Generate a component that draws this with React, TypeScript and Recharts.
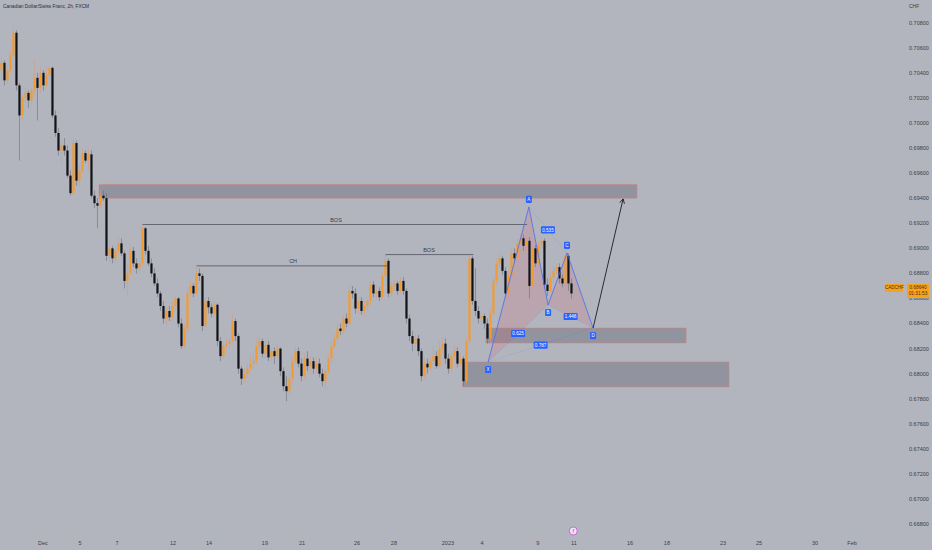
import React from 'react';
import {
  ComposedChart,
  Bar,
  Area,
  XAxis,
  YAxis,
  ReferenceArea,
  ReferenceLine,
  ReferenceDot,
} from 'recharts';

// ---------- data ----------
const firstOpen = 0.7042;

const closes = [
  0.7048, 0.7034, 0.7042, 0.7054, 0.7072, 0.703, 0.7006, 0.702, 0.7024, 0.7018,
  0.7026, 0.7036, 0.7028, 0.704, 0.703, 0.7038, 0.7044, 0.7006, 0.6992, 0.6978,
  0.6982, 0.6978, 0.6958, 0.6944, 0.6984, 0.6954, 0.6962, 0.6976, 0.697, 0.6975,
  0.6942, 0.6936, 0.6934, 0.6942, 0.694, 0.6894, 0.69, 0.6892, 0.6898, 0.6904,
  0.6896, 0.6874, 0.688, 0.6898, 0.6888, 0.6884, 0.6888, 0.6916, 0.6898, 0.6888,
  0.688, 0.6872, 0.6864, 0.6854, 0.6844, 0.685, 0.6845, 0.6854, 0.686, 0.684,
  0.6822, 0.6836, 0.6864, 0.687, 0.6864, 0.688, 0.6878, 0.6838, 0.6858, 0.6853,
  0.6848, 0.6855, 0.6826, 0.6814, 0.6822, 0.6824, 0.6826, 0.6842, 0.683, 0.6804,
  0.6796, 0.68, 0.6804, 0.6808, 0.681, 0.6822, 0.6826, 0.6816, 0.6823, 0.6813,
  0.6818, 0.6814, 0.682, 0.6802, 0.679, 0.6786, 0.6796, 0.681, 0.6818, 0.6808,
  0.6798, 0.6812, 0.6806, 0.681, 0.6804, 0.6808, 0.68, 0.6794, 0.6802, 0.6812,
  0.6822, 0.6828, 0.6836, 0.6834, 0.6844, 0.684, 0.6866, 0.6864, 0.6852, 0.6858,
  0.685, 0.6854, 0.6858, 0.6871, 0.6864, 0.6866, 0.6861, 0.6878, 0.689, 0.6864,
  0.687, 0.6872, 0.6866, 0.6874, 0.6866, 0.6844, 0.683, 0.6824, 0.6828, 0.6818,
  0.6798, 0.6808, 0.6805, 0.681, 0.6814, 0.6806, 0.682, 0.6824, 0.6812, 0.6804,
  0.6814, 0.6818, 0.6808, 0.6812, 0.6794, 0.6826, 0.6892, 0.6858, 0.685, 0.6844,
  0.6846, 0.684, 0.6828, 0.6848, 0.6874, 0.6888, 0.6892, 0.6882, 0.6864, 0.6878,
  0.6896, 0.6892, 0.6904, 0.6908, 0.6902, 0.6906, 0.687, 0.69, 0.6888, 0.6903,
  0.6906, 0.6871, 0.6866, 0.6877, 0.6882, 0.6885, 0.6876, 0.6872, 0.6894, 0.6872,
  0.6864,
];

const highs = [
  0.7052, 0.705, 0.7046, 0.7058, 0.708, 0.7074, 0.7032, 0.7022, 0.7028, 0.7026,
  0.7029, 0.705, 0.704, 0.7044, 0.7042, 0.7044, 0.7045, 0.7045, 0.701, 0.6996,
  0.6986, 0.6988, 0.6982, 0.6962, 0.6988, 0.6986, 0.6966, 0.698, 0.6978, 0.698,
  0.6978, 0.6946, 0.694, 0.6946, 0.6946, 0.6944, 0.6906, 0.6902, 0.6902, 0.6909,
  0.6908, 0.6898, 0.6888, 0.6902, 0.6901, 0.6892, 0.6892, 0.6919, 0.6917, 0.6902,
  0.6892, 0.6884, 0.6876, 0.6866, 0.6858, 0.6853, 0.6854, 0.6858, 0.6863, 0.6861,
  0.6844, 0.684, 0.6868, 0.6874, 0.6872, 0.6885, 0.6884, 0.688, 0.6861, 0.6861,
  0.6856, 0.6858, 0.6856, 0.6829, 0.6826, 0.6828, 0.6829, 0.6848, 0.6844, 0.6832,
  0.6806, 0.6804, 0.6808, 0.6814, 0.6816, 0.6828, 0.6829, 0.6828, 0.6826, 0.6826,
  0.6821, 0.6821, 0.6823, 0.6821, 0.6805, 0.6798, 0.68, 0.6813, 0.6822, 0.6821,
  0.6812, 0.6816, 0.6818, 0.6814, 0.6813, 0.6813, 0.6812, 0.6804, 0.6807, 0.6816,
  0.6826, 0.6832, 0.684, 0.684, 0.6847, 0.6848, 0.6871, 0.687, 0.6868, 0.6861,
  0.6861, 0.6858, 0.6861, 0.6874, 0.6874, 0.6871, 0.6869, 0.6882, 0.6895, 0.6892,
  0.6874, 0.6876, 0.6874, 0.6877, 0.6877, 0.6868, 0.6847, 0.6834, 0.6832, 0.6831,
  0.682, 0.6813, 0.6812, 0.6814, 0.6822, 0.6818, 0.6826, 0.6829, 0.6828, 0.6816,
  0.6818, 0.6822, 0.6821, 0.6816, 0.6814, 0.6829, 0.6896, 0.6894, 0.6884, 0.6854,
  0.685, 0.6848, 0.6844, 0.6852, 0.6878, 0.6892, 0.6896, 0.6894, 0.6885, 0.6882,
  0.6901, 0.69, 0.6908, 0.6912, 0.6911, 0.6909, 0.6909, 0.6903, 0.6903, 0.6906,
  0.6909, 0.6908, 0.6876, 0.688, 0.6886, 0.6888, 0.6888, 0.6879, 0.6896, 0.6896,
  0.6876,
];

const lows = [
  0.7034, 0.703, 0.7031, 0.704, 0.7052, 0.7026, 0.697, 0.7002, 0.7016, 0.7012,
  0.7014, 0.7022, 0.7002, 0.7024, 0.7026, 0.7028, 0.7034, 0.7004, 0.6989, 0.6974,
  0.6968, 0.6974, 0.6956, 0.6942, 0.6943, 0.695, 0.6949, 0.696, 0.6968, 0.6962,
  0.694, 0.6932, 0.6916, 0.6932, 0.6938, 0.689, 0.6888, 0.6888, 0.6888, 0.6895,
  0.6894, 0.6868, 0.6862, 0.6879, 0.6885, 0.688, 0.688, 0.6886, 0.6895, 0.6886,
  0.6877, 0.687, 0.6861, 0.685, 0.684, 0.6839, 0.6842, 0.6842, 0.685, 0.6837,
  0.682, 0.682, 0.6832, 0.6861, 0.6861, 0.6863, 0.6874, 0.6834, 0.6836, 0.6848,
  0.6845, 0.6845, 0.6822, 0.681, 0.6812, 0.6818, 0.682, 0.6824, 0.6826, 0.68,
  0.6791, 0.6792, 0.6797, 0.68, 0.6804, 0.6807, 0.6818, 0.6813, 0.6812, 0.681,
  0.681, 0.6808, 0.6812, 0.6798, 0.6786, 0.6778, 0.6783, 0.6792, 0.6807, 0.6805,
  0.6794, 0.6796, 0.6802, 0.68, 0.68, 0.68, 0.6797, 0.679, 0.6788, 0.68,
  0.6808, 0.682, 0.6824, 0.6831, 0.6831, 0.6837, 0.6839, 0.686, 0.6848, 0.6848,
  0.6847, 0.6845, 0.685, 0.6855, 0.6861, 0.686, 0.6858, 0.686, 0.6874, 0.6861,
  0.6861, 0.6866, 0.6863, 0.6864, 0.6863, 0.684, 0.6826, 0.6818, 0.682, 0.6814,
  0.6794, 0.6796, 0.68, 0.6802, 0.6807, 0.6804, 0.6804, 0.6816, 0.6808, 0.68,
  0.68, 0.681, 0.6805, 0.6805, 0.679, 0.6792, 0.6824, 0.6855, 0.6846, 0.684,
  0.6838, 0.6836, 0.6824, 0.6824, 0.6846, 0.687, 0.6885, 0.6879, 0.6861, 0.686,
  0.6874, 0.6888, 0.6888, 0.69, 0.6898, 0.6898, 0.686, 0.6868, 0.6885, 0.6885,
  0.69, 0.6868, 0.6862, 0.6864, 0.6872, 0.6879, 0.6872, 0.6869, 0.6871, 0.6866,
  0.686,
];

// time axis (bar index positions) and labels
const timeTicks = [13.8, 26.2, 38.5, 57.2, 69.2, 87.8, 100.2, 118.5, 130.8, 148.8, 160.2, 178.8, 190.8, 209.5, 221.8, 240.5, 252.5, 271.2, 283.5];
const timeLabels = ['Dec', '5', '7', '12', '14', '19', '21', '26', '28', '2023', '4', '9', '11', '16', '18', '23', '25', '30', 'Feb'];

// price axis
const priceTicks = [0.668, 0.670, 0.672, 0.674, 0.676, 0.678, 0.680, 0.682, 0.684, 0.686, 0.688, 0.690, 0.692, 0.694, 0.696, 0.698, 0.700, 0.702, 0.704, 0.706, 0.708];
const priceDomain = [0.66713, 0.70981];
const timeDomain = [-0.5, 292.83];

// supply / demand zones
const zoneStart = [32.5, 161.5, 153.8];
const zoneEnd = [211.8, 228.2, 242.5];
const zoneLow = [0.694, 0.68245, 0.67894];
const zoneHigh = [0.6951, 0.68364, 0.68093];

// structure lines
const structNames = ['BOS', 'CH', 'BOS'];
const structStart = [47, 65, 128];
const structEnd = [175.2, 128.5, 157.3];
const structPrice = [0.6919, 0.6886, 0.6895];
const structLabelAt = [111.5, 97.2, 142.5];

// harmonic XABCD
const patNames = ['X', 'A', 'B', 'C', 'D'];
const patIdx = [162.2, 175.8, 182.2, 188.5, 197.2];
const patPrice = [0.68093, 0.6933, 0.68548, 0.68963, 0.68364];
const ratioFrom = [0, 1, 2, 0];
const ratioTo = [2, 3, 4, 4];
const ratioText = ['0.625', '0.535', '1.448', '0.787'];
const labelBelow = [true, false, true, false, true];

// projection arrow target
const arrowIdx = 207.2;
const arrowPrice = 0.69394;

// event marker
const eventIdx = 190.6;
const eventPrice = 0.66745;

// ---------- derived table ----------
const rows = closes.map((c, i) => {
  const o = i === 0 ? firstOpen : closes[i - 1];
  return {
    i,
    open: o,
    close: c,
    high: Math.max(highs[i], o, c),
    low: Math.min(lows[i], o, c),
  };
});

const lerp = (a: number, b: number, t: number) => a + (b - a) * t;
const tri1 = [
  { i: patIdx[0], r: [patPrice[0], patPrice[0]] },
  { i: patIdx[1], r: [lerp(patPrice[0], patPrice[2], (patIdx[1] - patIdx[0]) / (patIdx[2] - patIdx[0])), patPrice[1]] },
  { i: patIdx[2], r: [patPrice[2], patPrice[2]] },
];
const tri2 = [
  { i: patIdx[2], r: [patPrice[2], patPrice[2]] },
  { i: patIdx[3], r: [lerp(patPrice[2], patPrice[4], (patIdx[3] - patIdx[2]) / (patIdx[4] - patIdx[2])), patPrice[3]] },
  { i: patIdx[4], r: [patPrice[4], patPrice[4]] },
];

// ---------- styles ----------
const BG = '#b2b5be';
const UP = '#f29b32';
const DOWN = '#111318';
const BLUE = '#2962ff';
const FONT = '"Liberation Sans", Arial, sans-serif';
const TXT = '#3a3e49';

const Candle = (props: any) => {
  const { x, y, width, height, payload } = props;
  if (!payload || x == null || y == null) return null;
  const { open, close, high, low } = payload;
  const top = Math.min(y, y + height);
  const h = Math.abs(height);
  const span = high - low || 1e-9;
  const k = h / span;
  const up = close >= open;
  const bTop = top + (high - Math.max(open, close)) * k;
  const bH = Math.max(1, Math.abs(open - close) * k);
  const cx = x + (width || 0) / 2;
  const bw = 2.2;
  return (
    <g>
      <line x1={cx} x2={cx} y1={top} y2={top + h} stroke={up ? '#d69a7c' : '#60636c'} strokeWidth={0.5} />
      <rect x={cx - bw / 2} y={bTop} width={bw} height={bH} fill={up ? UP : DOWN} />
    </g>
  );
};

const ArrowShape = (p: any) => {
  const { x1, y1, x2, y2 } = p;
  if (x1 == null) return null;
  const ang = Math.atan2(y2 - y1, x2 - x1);
  const L = 5;
  const a1 = ang + Math.PI - 0.5;
  const a2 = ang + Math.PI + 0.5;
  return (
    <g>
      <line x1={x1} y1={y1} x2={x2} y2={y2} stroke="#1c1d22" strokeWidth={0.9} />
      <polyline
        points={`${x2 + L * Math.cos(a1)},${y2 + L * Math.sin(a1)} ${x2},${y2} ${x2 + L * Math.cos(a2)},${y2 + L * Math.sin(a2)}`}
        fill="none"
        stroke="#1c1d22"
        strokeWidth={0.9}
      />
    </g>
  );
};

const makeBadge = (text: string, dy: number, w: number) => (p: any) => {
  const { cx, cy } = p;
  if (cx == null) return null;
  return (
    <g>
      <rect x={cx - w / 2} y={cy + dy - 3.6} width={w} height={7.2} rx={1.2} fill={BLUE} />
      <text x={cx} y={cy + dy + 1.7} textAnchor="middle" fontSize={4.6} fill="#ffffff" fontFamily={FONT}>
        {text}
      </text>
    </g>
  );
};

const EventShape = (p: any) => {
  const { cx, cy } = p;
  if (cx == null) return null;
  return (
    <g>
      <circle cx={cx} cy={cy} r={4} fill="#ece4f0" stroke="#c45bd6" strokeWidth={0.9} />
      <text x={cx} y={cy + 1.8} textAnchor="middle" fontSize={5} fontStyle="italic" fill="#9c27b0" fontFamily={FONT}>
        f
      </text>
    </g>
  );
};

export default function App() {
  return (
    <div style={{ position: 'fixed', left: 0, top: 0, width: 932, height: 550, background: BG, overflow: 'hidden', fontFamily: FONT }}>
      <ComposedChart width={932} height={550} data={rows} margin={{ top: 0, right: 0, bottom: 0, left: 0 }}>
        <XAxis
          dataKey="i"
          type="number"
          domain={timeDomain}
          allowDataOverflow
          ticks={timeTicks}
          interval={0}
          tickFormatter={(v: number) => timeLabels[timeTicks.indexOf(v)] ?? ''}
          height={15}
          axisLine={false}
          tickLine={false}
          tickSize={0}
          tickMargin={6}
          tick={{ fontSize: 5.5, fill: TXT, fontFamily: FONT }}
        />
        <YAxis
          orientation="right"
          type="number"
          domain={priceDomain}
          allowDataOverflow
          ticks={priceTicks}
          interval={0}
          tickFormatter={(v: number) => v.toFixed(5)}
          width={52}
          axisLine={false}
          tickLine={false}
          tickSize={0}
          tickMargin={29}
          tick={{ fontSize: 5.5, fill: TXT, fontFamily: FONT, textAnchor: 'start' }}
        />

        {zoneStart.map((x1, k) => (
          <ReferenceArea
            key={'z' + k}
            x1={x1}
            x2={zoneEnd[k]}
            y1={zoneLow[k]}
            y2={zoneHigh[k]}
            fill="#6f727d"
            fillOpacity={0.5}
            stroke="#d0847e"
            strokeOpacity={0.8}
            strokeWidth={0.7}
            ifOverflow="visible"
          />
        ))}

        <Area data={tri1} dataKey="r" type="linear" stroke="none" fill="#f23645" fillOpacity={0.13} isAnimationActive={false} dot={false} activeDot={false} />
        <Area data={tri2} dataKey="r" type="linear" stroke="none" fill="#f23645" fillOpacity={0.13} isAnimationActive={false} dot={false} activeDot={false} />

        {structStart.map((x1, k) => (
          <ReferenceLine
            key={'s' + k}
            segment={[
              { x: x1, y: structPrice[k] },
              { x: structEnd[k], y: structPrice[k] },
            ]}
            stroke="#50545e"
            strokeWidth={0.8}
            ifOverflow="visible"
          />
        ))}
        {structNames.map((name, k) => (
          <ReferenceDot
            key={'sl' + k}
            x={structLabelAt[k]}
            y={structPrice[k]}
            r={0}
            fill="none"
            stroke="none"
            ifOverflow="visible"
            label={{ value: name, position: 'top', offset: 3, fontSize: 5.5, fill: TXT, fontFamily: FONT }}
          />
        ))}

        <Bar dataKey={(d: any) => [d.low, d.high]} barSize={2} shape={<Candle />} isAnimationActive={false} />

        {ratioFrom.map((a, k) => (
          <ReferenceLine
            key={'rl' + k}
            segment={[
              { x: patIdx[a], y: patPrice[a] },
              { x: patIdx[ratioTo[k]], y: patPrice[ratioTo[k]] },
            ]}
            stroke={BLUE}
            strokeOpacity={0.3}
            strokeDasharray="1.5 1.5"
            strokeWidth={0.6}
            ifOverflow="visible"
          />
        ))}
        {patIdx.slice(0, 4).map((x1, k) => (
          <ReferenceLine
            key={'pl' + k}
            segment={[
              { x: x1, y: patPrice[k] },
              { x: patIdx[k + 1], y: patPrice[k + 1] },
            ]}
            stroke="#4a6cf0"
            strokeWidth={0.8}
            ifOverflow="visible"
          />
        ))}

        <ReferenceLine
          segment={[
            { x: patIdx[4], y: patPrice[4] },
            { x: arrowIdx, y: arrowPrice },
          ]}
          shape={ArrowShape}
          ifOverflow="visible"
        />

        {ratioFrom.map((a, k) => (
          <ReferenceDot
            key={'rb' + k}
            x={(patIdx[a] + patIdx[ratioTo[k]]) / 2}
            y={(patPrice[a] + patPrice[ratioTo[k]]) / 2}
            r={0}
            ifOverflow="visible"
            shape={makeBadge(ratioText[k], 0, 14)}
          />
        ))}
        {patNames.map((n, k) => (
          <ReferenceDot
            key={'pb' + k}
            x={patIdx[k]}
            y={patPrice[k]}
            r={0}
            ifOverflow="visible"
            shape={makeBadge(n, labelBelow[k] ? 7.5 : -7.5, 6)}
          />
        ))}

        <ReferenceDot x={eventIdx} y={eventPrice} r={4} ifOverflow="visible" shape={EventShape} />
      </ComposedChart>

      <div style={{ position: 'absolute', left: 3, top: 4, fontSize: 4.8, color: '#2a2e39', whiteSpace: 'nowrap' }}>
        Canadian Dollar/Swiss Franc, 2h, FXCM
      </div>
      <div style={{ position: 'absolute', left: 909, top: 3, fontSize: 5, color: TXT }}>CHF</div>
      <div
        style={{
          position: 'absolute',
          left: 885,
          top: 284,
          width: 18,
          height: 8,
          background: '#f7a21b',
          fontSize: 4.5,
          lineHeight: '8px',
          textAlign: 'center',
          color: '#4a3410',
          borderRadius: 1,
        }}
      >
        CADCHF
      </div>
      <div
        style={{
          position: 'absolute',
          left: 907,
          top: 284,
          width: 22,
          height: 14,
          background: '#f7a21b',
          fontSize: 4.8,
          lineHeight: '6.5px',
          paddingTop: 0.5,
          textAlign: 'center',
          color: '#4a3410',
          borderRadius: 1,
          boxSizing: 'border-box',
        }}
      >
        <div>0.68640</div>
        <div>01:31:53</div>
      </div>
    </div>
  );
}
